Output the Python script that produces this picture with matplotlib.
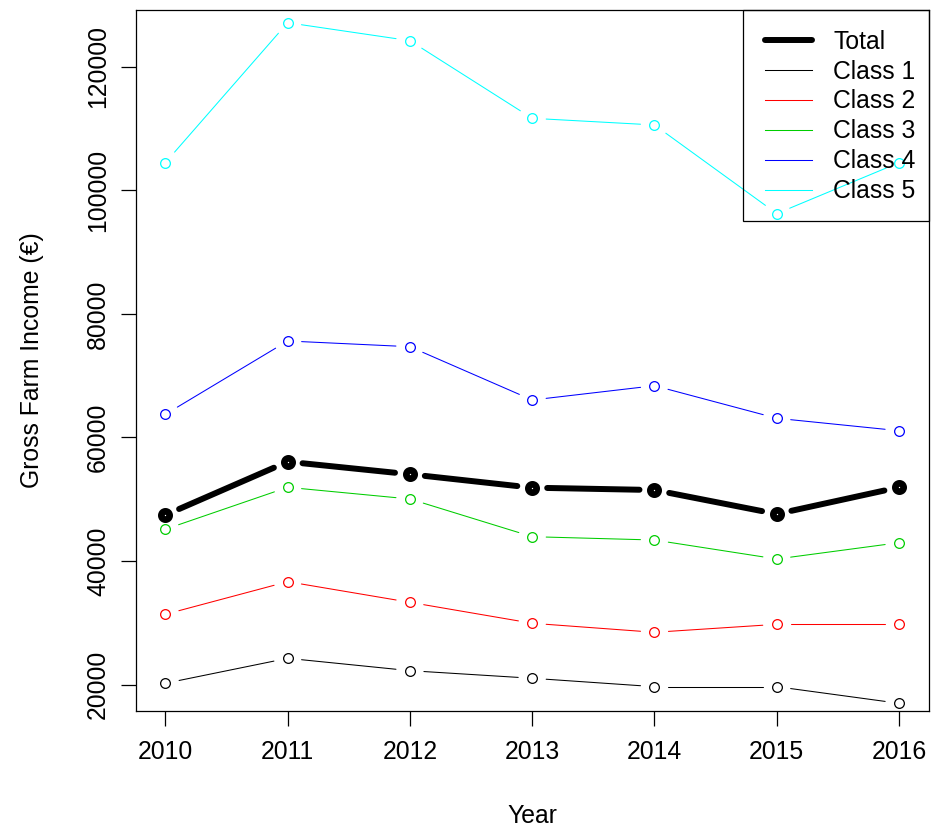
import matplotlib
matplotlib.use("Agg")
import numpy as np
import matplotlib.pyplot as plt
from matplotlib.lines import Line2D
from matplotlib.collections import LineCollection
from matplotlib.patches import Rectangle

plt.rcParams['font.family'] = ['Liberation Sans', 'DejaVu Sans']

# values
years = [2010, 2011, 2012, 2013, 2014, 2015, 2016]
total = [47460, 56080, 54050, 51880, 51500, 47620, 51940]
class1 = [20230, 24270, 22270, 21040, 19680, 19680, 16990]
class2 = [31390, 36670, 33330, 29940, 28480, 29770, 29770]
class3 = [45150, 51940, 50050, 43950, 43410, 40340, 42980]
class4 = [63750, 75620, 74690, 66070, 68380, 63110, 61100]
class5 = [104470, 127120, 124210, 111650, 110570, 96230, 104470]

labels = ["Total", "Class 1", "Class 2", "Class 3", "Class 4", "Class 5"]
colors = ["black", "#FF0000", "#00CD00", "#0000FF", "#00FFFF"]
yticks = [20000, 40000, 60000, 80000, 100000, 120000]

fs = 17.8
fig = plt.figure(figsize=(9.33, 8.31), dpi=100)
ax = fig.add_axes([136 / 933, 1 - 711 / 831, (929 - 136) / 933, (711 - 10) / 831])
ax.set_xlim(2009.76, 2016.245)
ax.set_ylim(15744, 129175)


def series(y, col, lw, ms, mew, gap, k):
    # R type="b": segments stop short of each point
    pts = ax.transData.transform(np.column_stack([years, y]))
    inv = ax.transData.inverted()
    segs = []
    for p, q in zip(pts[:-1], pts[1:]):
        d = q - p
        u = d / np.hypot(*d)
        segs.append(inv.transform(np.array([p + u * gap, q - u * gap])))
    lc = LineCollection(segs, colors=col, linewidths=lw, capstyle='round', zorder=2 + 2 * k)
    ax.add_collection(lc)
    ax.plot(years, y, ls='none', marker='o', ms=ms, mfc='none', mec=col, mew=mew, zorder=3 + 2 * k)


series(total, "black", 4.3, 6.0, 4.8, 15, 0)
for k, (vals, col) in enumerate(zip([class1, class2, class3, class4, class5], colors)):
    series(vals, col, 0.75, 7.0, 0.9, 14, k + 1)

ax.set_xticks(years)
ax.set_xticklabels([str(y) for y in years])
ax.set_yticks(yticks)
ax.set_yticklabels([str(v) for v in yticks])
ax.tick_params(axis='both', direction='out', length=10.8, width=0.9, labelsize=fs, colors='black')
ax.tick_params(axis='x', pad=10)
ax.tick_params(axis='y', pad=8, labelrotation=90)
for lab in ax.get_yticklabels():
    lab.set_va('center')
for s in ax.spines.values():
    s.set_linewidth(0.9)
    s.set_color('black')

ax.set_xlabel("Year", fontsize=fs, labelpad=29)
ax.set_ylabel("Gross Farm Income (€)", fontsize=fs, labelpad=30)

handles = [Line2D([], [], color="black", lw=4.3, solid_capstyle='round')]
handles += [Line2D([], [], color=c, lw=0.75) for c in colors]
leg = ax.legend(handles, labels, loc='upper right', bbox_to_anchor=(1, 1 - 6 / 701), borderaxespad=0,
                frameon=False, fontsize=fs,
                borderpad=0.55, handlelength=1.9, handletextpad=0.85, labelspacing=0.24)
leg.set_zorder(30)
box = Rectangle(((743 - 136) / 793, (711 - 221) / 701), (929 - 743) / 793, (221 - 10) / 701,
                transform=ax.transAxes, fill=False, edgecolor='black', lw=0.9, zorder=30, clip_on=False)
ax.add_patch(box)

fig.savefig("out.png", dpi=100)
